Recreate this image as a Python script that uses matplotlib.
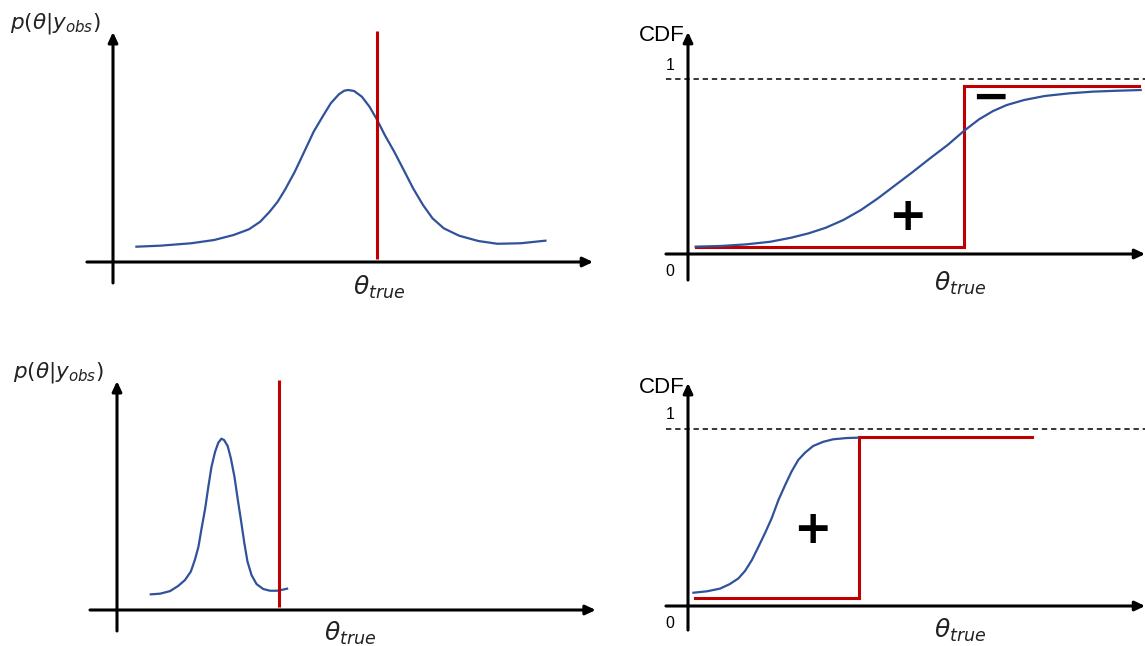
# coding=utf-8
"""
Esquema: posterior y CDF frente a theta_true (dos casos)
"""

import numpy as np
import matplotlib
matplotlib.use('Agg')
import matplotlib.pyplot as plt

# Tamano de la figura (px)
W, H = 1145, 646

plt.rcParams['mathtext.fontset'] = 'dejavusans'
plt.rcParams['font.family'] = ['Liberation Sans', 'DejaVu Sans']

AZUL = '#2f529a'
ROJO = '#c00000'

# Caso 1 (arriba): posterior ancha
post1_theta = [0.52, 1.06, 1.74, 2.25, 2.68, 3.02, 3.27, 3.48, 3.66, 3.82, 4.04, 4.25,
               4.46, 4.68, 4.84, 5.02, 5.14, 5.23, 5.36, 5.53, 5.70, 5.87, 6.04, 6.25,
               6.46, 6.67, 6.89, 7.10, 7.35, 7.69, 8.12, 8.54, 9.06, 9.61]
post1_dens = [0.089, 0.095, 0.109, 0.128, 0.157, 0.190, 0.234, 0.292, 0.351, 0.419,
              0.525, 0.641, 0.758, 0.855, 0.923, 0.975, 0.996, 1.0, 0.994, 0.961, 0.903,
              0.826, 0.738, 0.641, 0.535, 0.428, 0.331, 0.254, 0.196, 0.153, 0.122,
              0.106, 0.109, 0.124]
theta_true1 = 5.87

cdf1_theta = [0.17, 0.74, 1.29, 1.83, 2.29, 2.68, 3.06, 3.45, 3.84, 4.22, 4.61, 5.00,
              5.38, 5.77, 6.14, 6.47, 6.78, 7.08, 7.47, 7.93, 8.47, 9.01, 9.55, 10.06]
cdf1_val = [0.042, 0.046, 0.055, 0.070, 0.093, 0.118, 0.150, 0.194, 0.251, 0.318, 0.394,
            0.470, 0.547, 0.623, 0.705, 0.770, 0.817, 0.851, 0.880, 0.903, 0.918, 0.928,
            0.933, 0.937]
step1_theta = [0.17, 6.14, 6.14, 10.02]
step1_val = [0.038, 0.038, 0.96, 0.96]

# Caso 2 (abajo): posterior estrecha
post2_theta = [0.75, 0.96, 1.18, 1.36, 1.51, 1.64, 1.73, 1.81, 1.88, 1.96, 2.03, 2.10,
               2.18, 2.25, 2.32, 2.38, 2.46, 2.53, 2.61, 2.68, 2.76, 2.83, 2.90, 2.99,
               3.10, 3.25, 3.40, 3.55, 3.68, 3.78]
post2_dens = [0.091, 0.095, 0.110, 0.140, 0.174, 0.223, 0.291, 0.368, 0.475, 0.591,
              0.717, 0.833, 0.920, 0.972, 0.996, 0.988, 0.953, 0.882, 0.775, 0.649,
              0.513, 0.388, 0.281, 0.203, 0.151, 0.122, 0.112, 0.112, 0.118, 0.124]
theta_true2 = 3.6

cdf2_theta = [0.12, 0.42, 0.71, 0.93, 1.12, 1.27, 1.42, 1.56, 1.71, 1.86, 2.01, 2.16,
              2.30, 2.45, 2.60, 2.78, 3.01, 3.23, 3.53, 3.78]
cdf2_val = [0.075, 0.083, 0.098, 0.124, 0.156, 0.199, 0.260, 0.332, 0.411, 0.496, 0.599,
            0.684, 0.759, 0.825, 0.866, 0.904, 0.928, 0.942, 0.949, 0.951]
step2_theta = [0.16, 3.8, 3.8, 7.64]
step2_val = [0.045, 0.045, 0.955, 0.955]

fig = plt.figure(figsize=(W / 100, H / 100), dpi=100)


def panel(ox, oy, sx, sy):
    # Ejes transparentes sobre toda la figura, origen en (ox, oy) px
    ax = fig.add_axes([0, 0, 1, 1])
    ax.set_xlim(-ox / sx, (W - ox) / sx)
    ax.set_ylim((oy - H) / sy, oy / sy)
    ax.axis('off')
    ax.patch.set_alpha(0)
    return ax


def ejes(ax, x0, x1, y0, y1):
    est = dict(arrowstyle='-|>,head_length=0.6,head_width=0.28', lw=2.2, color='k',
               mutation_scale=10, shrinkA=0, shrinkB=0)
    ax.annotate('', xy=(x1, 0), xytext=(x0, 0), arrowprops=est)
    ax.annotate('', xy=(0, y1), xytext=(0, y0), arrowprops=est)


def post_panel(ax, th, dens, tt, x0, x1, y0, y1, red_top, lab_xy, tlab_xy):
    ejes(ax, x0, x1, y0, y1)
    ax.plot(th, dens, color=AZUL, lw=1.6, solid_joinstyle='round')
    ax.plot([tt, tt], [0.02, red_top], color=ROJO, lw=2.2, solid_capstyle='butt')
    ax.text(lab_xy[0], lab_xy[1], r'$p(\theta|y_{obs})$', fontsize=15.5, ha='center',
            va='center', color='#222222')
    ax.text(tlab_xy[0], tlab_xy[1], r'$\theta_{true}$', fontsize=18, ha='center',
            va='center', color='#222222')


def cdf_panel(ax, th, val, sth, sval, x0, x1, y0, y1, cdf_y, tlab_xy):
    ejes(ax, x0, x1, y0, y1)
    ax.plot([x0, x1], [1, 1], color='k', lw=1.1, linestyle=(0, (3.5, 2.5)))
    ax.plot(sth, sval, color=ROJO, lw=2.2, solid_joinstyle='miter')
    ax.plot(th, val, color=AZUL, lw=1.6, solid_joinstyle='round')
    ax.text(-0.07, cdf_y, 'CDF', fontsize=16, ha='right', va='center')
    ax.text(-0.4, 1.08, '1', fontsize=11.5, ha='center', va='center')
    ax.text(-0.4, -0.1, '0', fontsize=11.5, ha='center', va='center')
    ax.text(tlab_xy[0], tlab_xy[1], r'$\theta_{true}$', fontsize=18, ha='center',
            va='center', color='#222222')


# Arriba izquierda
ax1 = panel(113, 262, 45, 172)
post_panel(ax1, post1_theta, post1_dens, theta_true1, -0.58, 10.67, -0.122, 1.337,
           1.343, (-1.27, 1.384), (5.91, -0.145))

# Abajo izquierda
ax3 = panel(117, 610, 45, 172)
post_panel(ax3, post2_theta, post2_dens, theta_true2, -0.6, 10.64, -0.122, 1.331,
           1.337, (-1.29, 1.378), (5.18, -0.134))

# Arriba derecha
ax2 = panel(688, 254, 45, 175)
cdf_panel(ax2, cdf1_theta, cdf1_val, step1_theta, step1_val, -0.49, 10.16, -0.149, 1.269,
          1.246, (6.04, -0.166))
ax2.text(4.88, 0.21, '+', fontsize=33, fontweight='bold', family='DejaVu Sans',
         ha='center', va='center')
ax2.text(6.71, 0.891, '\u2212', fontsize=33, fontweight='bold', family='DejaVu Sans',
         ha='center', va='center')

# Abajo derecha
ax4 = panel(688, 606, 45, 177)
cdf_panel(ax4, cdf2_theta, cdf2_val, step2_theta, step2_val, -0.49, 10.16, -0.136, 1.26,
          1.237, (6.04, -0.136))
ax4.text(2.76, 0.424, '+', fontsize=33, fontweight='bold', family='DejaVu Sans',
         ha='center', va='center')

fig.savefig('out.png', dpi=100)
